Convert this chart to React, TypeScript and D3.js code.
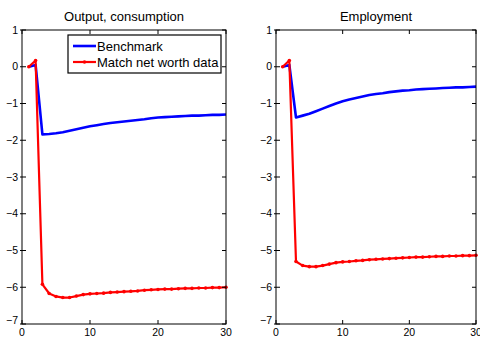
import { useRef, useEffect } from 'react';
import * as d3 from 'd3';

// periods 1..30
const periods = d3.range(1, 31);

const outputBenchmark = [0, 0.05, -1.84, -1.83, -1.81, -1.78, -1.74, -1.70, -1.66, -1.62, -1.59, -1.56, -1.53, -1.51, -1.49,
  -1.47, -1.45, -1.43, -1.40, -1.38, -1.37, -1.36, -1.35, -1.34, -1.33, -1.33, -1.32, -1.31, -1.31, -1.30];
const outputNetWorth = [0, 0.17, -5.92, -6.17, -6.25, -6.28, -6.28, -6.24, -6.20, -6.18, -6.17, -6.16, -6.14, -6.13, -6.12,
  -6.11, -6.10, -6.08, -6.07, -6.06, -6.05, -6.05, -6.04, -6.03, -6.03, -6.02, -6.02, -6.01, -6.01, -6.00];

const employmentBenchmark = [0, 0.05, -1.38, -1.33, -1.28, -1.21, -1.14, -1.07, -1.00, -0.94, -0.89, -0.85, -0.81, -0.77, -0.74,
  -0.72, -0.69, -0.67, -0.65, -0.64, -0.62, -0.61, -0.60, -0.59, -0.58, -0.57, -0.56, -0.56, -0.55, -0.54];
const employmentNetWorth = [0, 0.17, -5.30, -5.41, -5.44, -5.44, -5.41, -5.37, -5.33, -5.31, -5.30, -5.28, -5.27, -5.25, -5.24,
  -5.23, -5.22, -5.21, -5.20, -5.19, -5.18, -5.18, -5.17, -5.16, -5.16, -5.15, -5.15, -5.14, -5.14, -5.13];

const xTicks = [0, 10, 20, 30];
const yTicks = [1, 0, -1, -2, -3, -4, -5, -6, -7];
const seriesNames = ['Benchmark', 'Match net worth data'];

const panels = [
  { title: 'Output, consumption', benchmark: outputBenchmark, netWorth: outputNetWorth, left: 22, right: 226, legend: true },
  { title: 'Employment', benchmark: employmentBenchmark, netWorth: employmentNetWorth, left: 276, right: 476, legend: false },
];

function App() {

  const svgRef = useRef<SVGSVGElement>(null);

  useEffect(() => {
    const width = 480;
    const height = 337;
    const top = 30;
    const bottom = 324;
    const font = '"Liberation Sans", Arial, Helvetica, sans-serif';
    const minus = (v: number) => String(v).replace('-', '\u2212');

    const svg = d3.select(svgRef.current)
      .attr('width', width)
      .attr('height', height)
      .attr('viewBox', [0, 0, width, height].join(' '));

    svg.selectAll('*').remove();
    svg.append('rect').attr('width', width).attr('height', height).attr('fill', '#fff');

    panels.forEach((p) => {
      const x = d3.scaleLinear().domain([0, 30]).range([p.left, p.right]);
      const y = d3.scaleLinear().domain([-7, 1]).range([bottom, top]);
      const g = svg.append('g');

      //Title
      g.append('text')
        .attr('x', (p.left + p.right) / 2)
        .attr('y', 21)
        .attr('text-anchor', 'middle')
        .attr('font-family', font)
        .attr('font-size', '13px')
        .attr('fill', '#000')
        .text(p.title);

      //Lines
      const line = d3.line<number>()
        .x((_, i) => x(periods[i]))
        .y((d) => y(d));

      g.append('path')
        .datum(p.benchmark)
        .attr('d', line)
        .attr('fill', 'none')
        .attr('stroke', '#0000ff')
        .attr('stroke-width', 2.6)
        .attr('stroke-linejoin', 'round');

      g.append('path')
        .datum(p.netWorth)
        .attr('d', line)
        .attr('fill', 'none')
        .attr('stroke', '#ff0000')
        .attr('stroke-width', 2.2)
        .attr('stroke-linejoin', 'round');

      g.selectAll('circle.dot')
        .data(p.netWorth)
        .join('circle')
        .attr('class', 'dot')
        .attr('cx', (_, i) => x(periods[i]))
        .attr('cy', (d) => y(d))
        .attr('r', 1.8)
        .attr('fill', '#ff0000');

      //Box
      g.append('rect')
        .attr('x', p.left)
        .attr('y', top)
        .attr('width', p.right - p.left)
        .attr('height', bottom - top)
        .attr('fill', 'none')
        .attr('stroke', '#000')
        .attr('stroke-width', 1);

      //Ticks
      xTicks.forEach((t) => {
        g.append('line').attr('x1', x(t)).attr('x2', x(t)).attr('y1', bottom).attr('y2', bottom - 4).attr('stroke', '#000');
        g.append('line').attr('x1', x(t)).attr('x2', x(t)).attr('y1', top).attr('y2', top + 4).attr('stroke', '#000');
        g.append('text')
          .attr('x', x(t))
          .attr('y', 336)
          .attr('text-anchor', 'middle')
          .attr('font-family', font)
          .attr('font-size', '10.5px')
          .attr('fill', '#000')
          .text(minus(t));
      });

      yTicks.forEach((t) => {
        g.append('line').attr('x1', p.left - 2).attr('x2', p.left + 4).attr('y1', y(t)).attr('y2', y(t)).attr('stroke', '#000');
        g.append('line').attr('x1', p.right).attr('x2', p.right - 4).attr('y1', y(t)).attr('y2', y(t)).attr('stroke', '#000');
        g.append('text')
          .attr('x', p.left - 4)
          .attr('y', y(t) + (t === -7 ? 0 : 3.5))
          .attr('text-anchor', 'end')
          .attr('font-family', font)
          .attr('font-size', '10.5px')
          .attr('fill', '#000')
          .text(minus(t));
      });

      //Legend
      if (p.legend) {
        const lg = g.append('g');
        lg.append('rect')
          .attr('x', 68)
          .attr('y', 35)
          .attr('width', 153)
          .attr('height', 38)
          .attr('fill', '#fff')
          .attr('stroke', '#000')
          .attr('stroke-width', 1.2);
        const colors = ['#0000ff', '#ff0000'];
        seriesNames.forEach((name, i) => {
          const ly = 46 + i * 16;
          lg.append('line')
            .attr('x1', 73).attr('x2', 96)
            .attr('y1', ly).attr('y2', ly)
            .attr('stroke', colors[i])
            .attr('stroke-width', i === 0 ? 2.6 : 2.2);
          if (i === 1) {
            lg.append('circle').attr('cx', 84.5).attr('cy', ly).attr('r', 1.8).attr('fill', colors[i]);
          }
          lg.append('text')
            .attr('x', 97)
            .attr('y', ly + 4.5)
            .attr('font-family', font)
            .attr('font-size', '13px')
            .attr('fill', '#000')
            .text(name);
        });
      }
    });
  }, []);

  return (
    <svg ref={svgRef} style={{ position: 'absolute', left: 0, top: 0, display: 'block' }} />
  );
}

export default App;
